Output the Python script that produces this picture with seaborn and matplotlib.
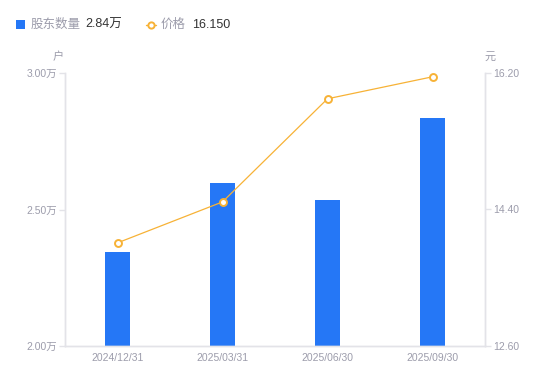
import pandas as pd
import matplotlib.pyplot as plt
import seaborn as sns
from matplotlib.lines import Line2D
from matplotlib.patches import Rectangle

# dados
datas = ['2024/12/31', '2025/03/31', '2025/06/30', '2025/09/30']
holders = [2.344, 2.597, 2.535, 2.835]   # 万户
price = [13.96, 14.50, 15.86, 16.15]     # 元
left_ticks = [2.00, 2.50, 3.00]
right_ticks = [12.60, 14.40, 16.20]

blue = '#2577f6'
orange = '#f7b236'
grey = '#9c9cab'
axis_col = '#e3e3e8'

sns.set_style('white')
plt.rcParams['font.family'] = ['Liberation Sans', 'Noto Sans CJK SC', 'DejaVu Sans']

df = pd.DataFrame({'data': datas, 'holders': holders, 'price': price})

fig = plt.figure(figsize=(5.5, 3.81), dpi=100)
ax = fig.add_axes([65 / 550, 35 / 381, 420 / 550, 273 / 381])

sns.barplot(x='data', y='holders', data=df, ax=ax, color=blue, width=0.24,
            saturation=1, edgecolor='none')
ax.set_ylim(2.0, 3.0)
ax.set_xlim(-0.5, 3.5)
ax.set_yticks(left_ticks)
ax.set_yticklabels([f'{v:.2f}万' for v in left_ticks])
ax.set_xlabel('')
ax.set_ylabel('')

ax2 = ax.twinx()
sns.lineplot(x=list(range(len(datas))), y=price, ax=ax2, color=orange, linewidth=0.9,
             marker='o', markersize=5, markerfacecolor='white',
             markeredgecolor=orange, markeredgewidth=1.4)
ax2.set_ylim(12.6, 16.2)
ax2.set_yticks(right_ticks)
ax2.set_yticklabels([f'{v:.2f}' for v in right_ticks])
ax.set_xlim(-0.5, 3.5)

for a in (ax, ax2):
    for s in a.spines.values():
        s.set_color(axis_col)
        s.set_linewidth(1)
    a.spines['top'].set_visible(False)
    a.tick_params(axis='y', colors=axis_col, labelcolor=grey, labelsize=7.5,
                  length=4, width=1, pad=2)
ax.tick_params(axis='x', length=0, labelcolor=grey, labelsize=7.5, pad=5)

fig.text(58 / 550, 1 - 57 / 381, '户', color=grey, fontsize=8, ha='center', va='center')
fig.text(490 / 550, 1 - 57 / 381, '元', color=grey, fontsize=8, ha='center', va='center')

# legenda manual
fig.add_artist(Rectangle((16 / 550, 1 - 29 / 381), 9 / 550, 9 / 381,
                         transform=fig.transFigure, color=blue, lw=0))
fig.text(31 / 550, 1 - 24.5 / 381, '股东数量', color=grey, fontsize=9, va='center')
fig.text(85 / 550, 1 - 24.5 / 381, '2.84万', color='#333333', fontsize=9, va='center')
fig.add_artist(Line2D([146 / 550, 156 / 550], [1 - 24.5 / 381] * 2, transform=fig.transFigure,
                      color=orange, lw=1, marker='o', markevery=[0], markersize=0))
fig.add_artist(Line2D([151 / 550], [1 - 24.5 / 381], transform=fig.transFigure,
                      color=orange, marker='o', markersize=4.5, markerfacecolor='white',
                      markeredgewidth=1.4))
fig.text(161 / 550, 1 - 24.5 / 381, '价格', color=grey, fontsize=9, va='center')
fig.text(192 / 550, 1 - 24.5 / 381, '16.150', color='#333333', fontsize=9, va='center')

plt.savefig('out.png', dpi=100)
